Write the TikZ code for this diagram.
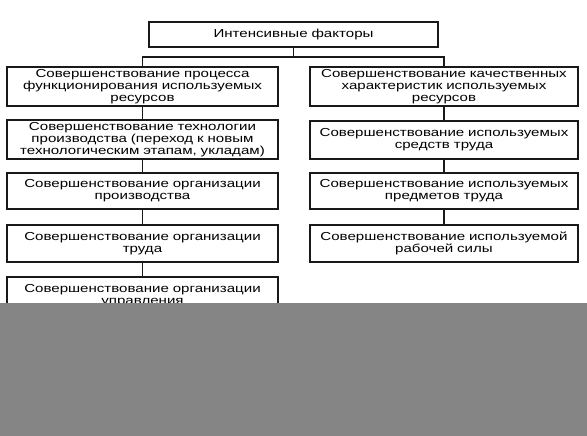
\documentclass[tikz,border=0pt]{standalone}
\usepackage{fontspec}
\setmainfont{Liberation Sans}[FakeStretch=1.3]
\begin{document}
\begin{tikzpicture}[x=1pt,y=-1pt,
  box/.style={draw=black!90, line width=1.1pt, inner sep=0pt, align=center,
    font=\fontsize{11.6}{11.9}\selectfont},
  lbox/.style={box, minimum width=271pt, text width=268pt},
  rbox/.style={box, minimum width=268pt, text width=265pt},
  conn/.style={draw=black!90, line width=1.1pt}]
\useasboundingbox (0,0) rectangle (587,436);
\fill[white] (0,0) rectangle (587,436);
\node[box, minimum width=289pt, minimum height=25pt, text width=285pt] (top) at (293.5,34.5) {Интенсивные факторы};
% left column
\node[lbox, minimum height=39pt] (l1) at (142.5,86.5) {Совершенствование процесса\\функционирования используемых\\ресурсов};
\node[lbox, minimum height=39pt] (l2) at (142.5,139.5) {Совершенствование технологии\\производства (переход к новым\\технологическим этапам, укладам)};
\node[lbox, minimum height=36pt] (l3) at (142.5,191) {Совершенствование организации\\производства};
\node[lbox, minimum height=37pt] (l4) at (142.5,243.5) {Совершенствование организации\\труда};
\node[lbox, minimum height=37pt] (l5) at (142.5,295.5) {Совершенствование организации\\управления};
% right column
\node[rbox, minimum height=39pt] (r1) at (444,86.5) {Совершенствование качественных\\характеристик используемых\\ресурсов};
\node[rbox, minimum height=38pt] (r2) at (444,140) {Совершенствование используемых\\средств труда};
\node[rbox, minimum height=36pt] (r3) at (444,191) {Совершенствование используемых\\предметов труда};
\node[rbox, minimum height=37pt] (r4) at (444,243.5) {Совершенствование используемой\\рабочей силы};
% connectors
\coordinate (split) at (293.5,57);
\draw[conn] (top.south) -- (split);
\draw[conn] (split) -| (l1.north);
\draw[conn] (split) -| (r1.north);
\draw[conn] (l1) -- (l2);
\draw[conn] (l2) -- (l3);
\draw[conn] (l3) -- (l4);
\draw[conn] (l4) -- (l5);
\draw[conn] (r1) -- (r2);
\draw[conn] (r2) -- (r3);
\draw[conn] (r3) -- (r4);
% damaged band of the scan
\fill[black!48] (0,303) rectangle (587,436);
\end{tikzpicture}
\end{document}
